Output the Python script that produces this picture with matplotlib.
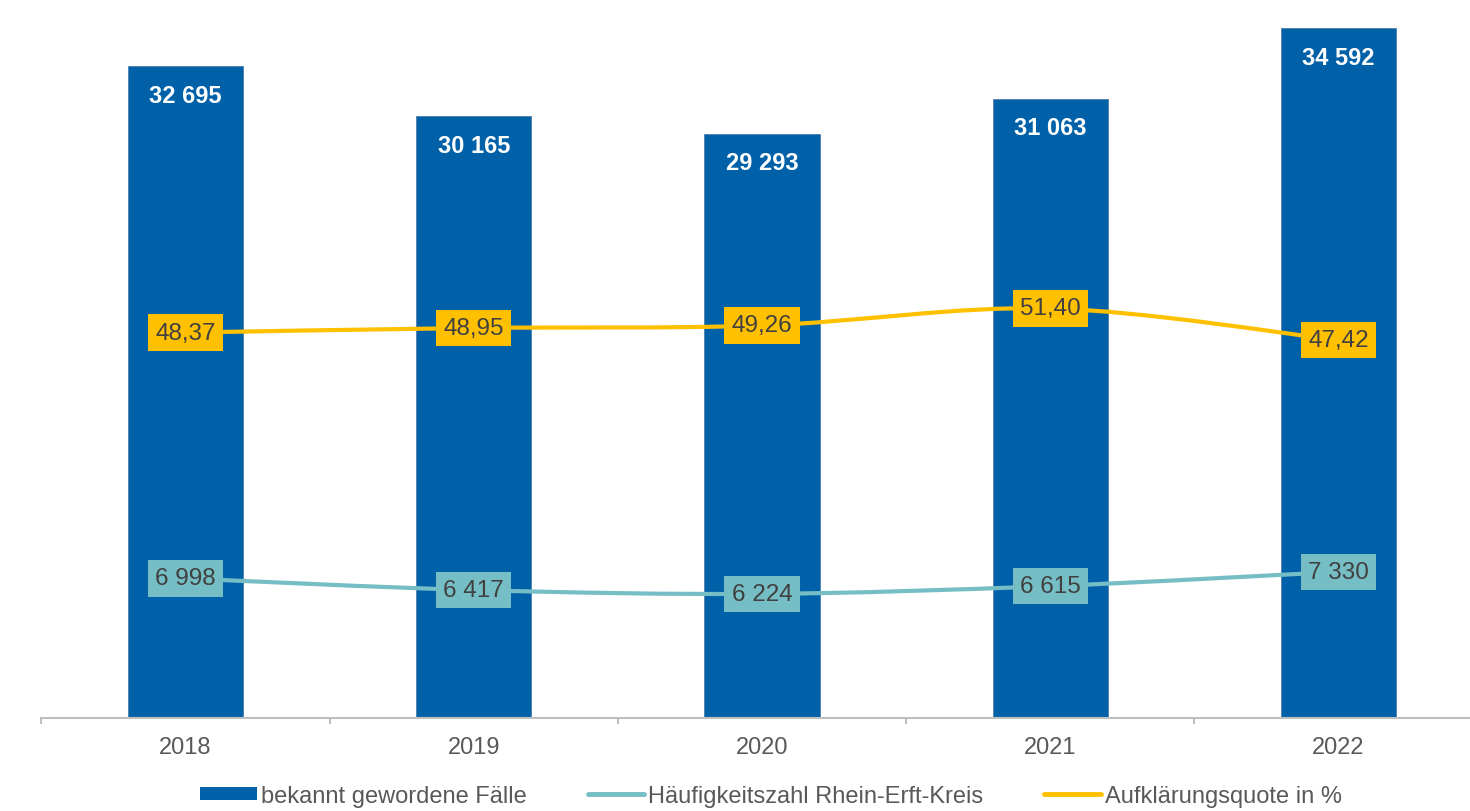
import numpy as np
import matplotlib
matplotlib.use("Agg")
import matplotlib.pyplot as plt
from matplotlib.path import Path
from matplotlib.patches import PathPatch, Patch
from matplotlib.lines import Line2D

jahre = ["2018", "2019", "2020", "2021", "2022"]
faelle = [32695, 30165, 29293, 31063, 34592]
haeufigkeit = [6998, 6417, 6224, 6615, 7330]
quote = [48.37, 48.95, 49.26, 51.40, 47.42]

blau = "#0060A8"
tuerkis = "#76BEC5"
gelb = "#FFC000"
textgrau = "#404040"
achsgrau = "#BFBFBF"

plt.rcParams['font.family'] = ['Liberation Sans', 'DejaVu Sans']


def tausender(v):
    return f"{v:,}".replace(",", " ")


def komma(v):
    return f"{v:.2f}".replace(".", ",")


def glatte_linie(ax, xs, ys, farbe, lw):
    # Bezier-Kurve durch die Punkte (wie geglaettete Linien in Excel)
    xs = list(xs)
    ys = list(ys)
    n = len(xs)
    verts = [(xs[0], ys[0])]
    codes = [Path.MOVETO]
    for i in range(n - 1):
        x0, y0 = (xs[i - 1], ys[i - 1]) if i > 0 else (xs[i], ys[i])
        x1, y1 = xs[i], ys[i]
        x2, y2 = xs[i + 1], ys[i + 1]
        x3, y3 = (xs[i + 2], ys[i + 2]) if i + 2 < n else (x2, y2)
        c1 = (x1 + (x2 - x0) / 6, y1 + (y2 - y0) / 6)
        c2 = (x2 - (x3 - x1) / 6, y2 - (y3 - y1) / 6)
        verts += [c1, c2, (x2, y2)]
        codes += [Path.CURVE4] * 3
    patch = PathPatch(Path(verts, codes), facecolor="none", edgecolor=farbe,
                      lw=lw, capstyle="round", zorder=3)
    ax.add_patch(patch)


fig = plt.figure(figsize=(14.7, 8.12), dpi=100)
W, H = 1470, 812
links, rechts, oben, unten = 41.4, 1482.6, 21, 719
ax = fig.add_axes([links / W, 1 - unten / H, (rechts - links) / W, (unten - oben) / H])
ax2 = ax.twinx()

x = np.arange(len(jahre))
ax.bar(x, faelle, width=0.4, color=blau, edgecolor="#4F7FAF", linewidth=0.6, zorder=2)
ax.set_xlim(-0.5, len(jahre) - 0.5)
ax.set_ylim(0, 35000)
ax2.set_ylim(0, 87.6)

for xi, v in zip(x, faelle):
    ax.annotate(tausender(v), (xi, v), xytext=(0, -21), textcoords="offset points",
                ha="center", va="center", color="white", fontsize=17, fontweight="bold",
                zorder=4)

glatte_linie(ax, x, haeufigkeit, tuerkis, 3)
glatte_linie(ax2, x, quote, gelb, 3)

for xi, v in zip(x, haeufigkeit):
    ax.text(xi, v, tausender(v), ha="center", va="center", fontsize=17.5, color=textgrau,
            zorder=5, bbox=dict(boxstyle="square,pad=0.3", fc=tuerkis, ec="none"))
for xi, v in zip(x, quote):
    ax2.text(xi, v, komma(v), ha="center", va="center", fontsize=17.5, color=textgrau,
             zorder=5, bbox=dict(boxstyle="square,pad=0.3", fc=gelb, ec="none"))

for a in (ax, ax2):
    for s in ["top", "right", "left"]:
        a.spines[s].set_visible(False)
    a.set_yticks([])
ax2.spines["bottom"].set_visible(False)
ax.spines["bottom"].set_color(achsgrau)
ax.spines["bottom"].set_linewidth(1.5)

ax.set_xticks(x)
ax.set_xticklabels(jahre, fontsize=17, color="#595959")
ax.set_xticks(np.arange(len(jahre) + 1) - 0.5, minor=True)
ax.tick_params(axis="x", which="major", length=0, pad=13)
ax.tick_params(axis="x", which="minor", length=4.5, width=1.5, color=achsgrau)

handles = [
    Patch(facecolor=blau, edgecolor="none"),
    Line2D([], [], color=tuerkis, lw=3.5, solid_capstyle="round"),
    Line2D([], [], color=gelb, lw=3.5, solid_capstyle="round"),
]
namen = ["bekannt gewordene Fälle", "Häufigkeitszahl Rhein-Erft-Kreis", "Aufklärungsquote in %"]
fig.legend(handles, namen, loc="center", bbox_to_anchor=(771 / W, 1 - 797 / H), ncol=3,
           frameon=False, fontsize=17, labelcolor="#595959", handlelength=2.4,
           handleheight=0.5, handletextpad=0.15, columnspacing=2.6)

fig.savefig("out.png", dpi=100)
